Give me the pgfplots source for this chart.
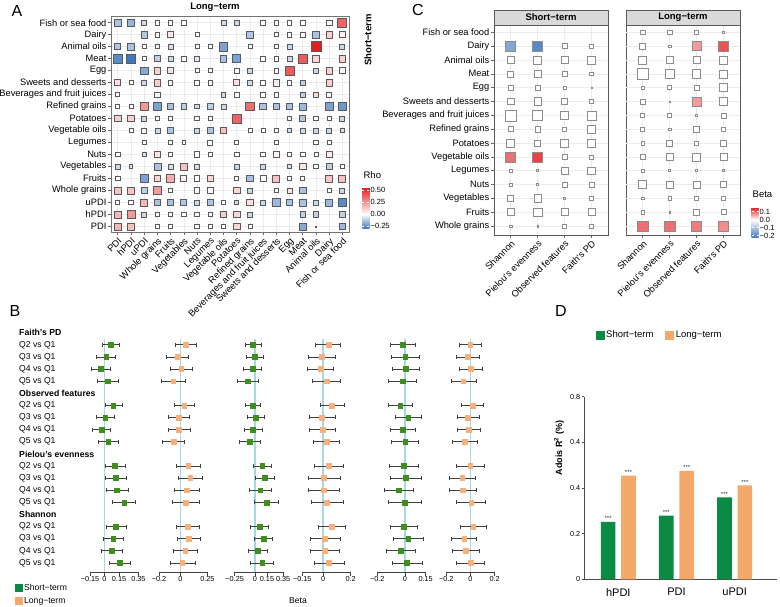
\documentclass[border=0pt]{standalone}
\usepackage{fontspec}
\setmainfont{Liberation Sans}
\usepackage{pgfplots}
\usepackage{pgfplotstable}
\pgfplotsset{compat=1.18}
\newcommand{\fs}[1]{\fontsize{#1}{#1}\selectfont}
\definecolor{cgreen}{HTML}{0B8A44}
\definecolor{corange}{HTML}{F4A96B}
\definecolor{bgreen}{HTML}{3F8F1F}
\definecolor{borange}{HTML}{F6B07C}
\definecolor{vline}{HTML}{A6D8E2}
\definecolor{cblue}{HTML}{3F78BC}
\definecolor{cred}{HTML}{E31A1C}
\definecolor{gridc}{HTML}{EBEBEB}
\definecolor{stripc}{HTML}{D9D9D9}
\pgfplotsset{colormap={rho}{color(0pt)=(cblue) color(29pt)=(white) color(85pt)=(cred)}}
\pgfplotsset{colormap={beta}{color(0pt)=(cblue) color(22.9pt)=(white) color(38.8pt)=(cred)}}

\pgfplotstableread{
x y v s
0 17 -0.13 6.5
1 17 -0.16 7.5
2 17 -0.08 5
3 17 0 4.5
4 17 0 4.5
5 17 0 4.5
8 17 -0.08 5
9 17 -0.08 5
11 17 0 4.5
12 17 0 4.5
13 17 0 4.5
14 17 0 4.5
16 17 0.03 5.5
17 17 0.38 9
2 16 -0.12 6.5
3 16 0 4.5
4 16 0.06 6
6 16 0 4
10 16 -0.12 6.5
12 16 0 4
13 16 0 4.5
14 16 0 4.5
15 16 -0.13 6.5
16 16 0.12 6.5
17 16 0.04 6
0 15 -0.12 6
1 15 -0.13 6.5
2 15 0 4
3 15 -0.02 4
4 15 -0.07 5
6 15 0 4
7 15 0 4
8 15 -0.2 8.5
10 15 0 4
12 15 0 4
13 15 -0.08 5
15 15 0.55 10
17 15 -0.08 5
0 14 -0.25 9
1 14 -0.3 9.5
2 14 0 4
3 14 -0.1 6
4 14 -0.08 5
5 14 0 4.5
6 14 -0.05 4.5
8 14 -0.13 6.5
9 14 -0.2 8
11 14 0 4.5
12 14 0 4.5
13 14 -0.08 5
14 14 0.4 9
15 14 0.1 6.5
17 14 0.12 6.5
2 13 -0.18 7.5
3 13 0.12 6.5
4 13 0.08 6
6 13 0 4
7 13 0 4
9 13 0 4.5
10 13 -0.08 5
12 13 0 4.5
13 13 0.4 9
15 13 -0.08 5
16 13 0.12 6.5
17 13 0.03 6
0 12 0.08 6
1 12 0 4
2 12 -0.08 5
3 12 0.12 6.5
4 12 0 4.5
6 12 0 4.5
7 12 0 4.5
9 12 0.08 6
10 12 -0.07 4.5
11 12 0 4.5
12 12 0.05 6.5
13 12 0 4.5
14 12 -0.1 5.5
16 12 0.12 6.5
0 11 0 4
3 11 0.02 5.5
8 11 -0.08 4.5
9 11 0 4.5
11 11 0 4.5
12 11 0 4.5
14 11 -0.1 5.5
15 11 0.1 5.5
16 11 0.02 5
0 10 0 4
1 10 0 4
2 10 0.25 8
3 10 -0.2 8
4 10 -0.13 6.5
5 10 -0.1 5.5
6 10 -0.08 4.5
7 10 -0.1 5.5
8 10 -0.08 5
10 10 0.35 8.5
11 10 -0.13 6.5
12 10 -0.13 6.5
13 10 -0.13 6.5
14 10 -0.15 7
16 10 -0.2 8.5
17 10 -0.22 8.5
0 9 0.12 6.5
1 9 0.12 6.5
2 9 -0.08 5
3 9 0 4.5
4 9 0 4.5
6 9 0 4.5
7 9 0 4.5
9 9 0.38 9
13 9 -0.02 4
14 9 -0.12 6
15 9 0 4.5
16 9 0 4.5
17 9 -0.08 5
1 8 0 4
2 8 0.03 5
3 8 -0.08 5
4 8 -0.12 6
6 8 -0.08 5
7 8 -0.12 6
8 8 0.15 6.5
10 8 0 4
11 8 0 4
12 8 -0.02 4
13 8 -0.07 4.5
14 8 -0.08 5
15 8 -0.08 5
16 8 -0.08 5
17 8 -0.07 4.5
2 7 -0.02 4
4 7 0 4.5
5 7 -0.02 3.5
7 7 0 5
9 7 0 4
12 7 0 4.5
15 7 0 4.5
16 7 0 4.5
0 6 0 4.5
2 6 -0.07 4.5
3 6 0.06 6
4 6 0 4
6 6 0.02 5.5
7 6 0 4.5
9 6 0 4.5
11 6 0 4.5
12 6 0.03 6
13 6 0 4
14 6 0 4.5
15 6 0 4
16 6 0.05 6
0 5 -0.08 5
1 5 -0.05 3.5
3 5 -0.13 7
4 5 -0.07 5
5 5 0.15 7
6 5 -0.07 5
9 5 -0.08 5
11 5 -0.08 5
13 5 -0.07 4.5
14 5 0.07 6.5
15 5 0 4.5
16 5 -0.1 6
17 5 0 4
0 4 0 4.5
2 4 -0.2 8
3 4 0.1 6.5
4 4 0.2 7.5
5 4 0.04 6
6 4 0.02 5.5
7 4 0.1 6.5
9 4 0 4
10 4 -0.13 6.5
11 4 0.02 6
12 4 0.15 7
13 4 0 4
14 4 0.02 4
16 4 0.14 7
17 4 0.15 7
0 3 0.15 7
1 3 0.15 7
2 3 -0.1 6
3 3 0.25 8
4 3 0 4.5
6 3 0.02 5.5
7 3 0.02 5.5
9 3 0.1 6.5
10 3 -0.08 5
12 3 0 4
13 3 0.06 5
14 3 -0.13 6.5
16 3 0 4
17 3 -0.08 5
0 2 0 4
1 2 0 4.5
2 2 0.18 7
3 2 -0.13 6.5
4 2 -0.13 6.5
5 2 -0.12 6
6 2 -0.08 5
7 2 -0.12 6.5
8 2 0 4
9 2 -0.07 4
10 2 0.08 6.5
11 2 -0.08 5
12 2 -0.15 7.5
13 2 -0.13 6.5
14 2 -0.13 7
15 2 -0.08 5
16 2 -0.15 7
17 2 -0.25 8.5
0 1 0.18 7
1 1 0.25 8
2 1 -0.08 5
3 1 0 4.5
4 1 0 4.5
5 1 0 4.5
6 1 0 4.5
7 1 0 4.5
8 1 0.13 6.5
9 1 0.1 6.5
10 1 -0.08 5
14 1 -0.1 5.5
15 1 -0.1 5.5
17 1 -0.1 5.5
0 0 0.18 7
1 0 0.15 7
3 0 0 4.5
4 0 0 4
6 0 0 4.5
7 0 0 4.5
8 0 0 4.5
9 0 0.1 6.5
10 0 0 4
14 0 -0.18 7
15 0 0 1
17 0 -0.15 6.5
}\tabA

\pgfplotstableread{
x y v s
0 13 -0.15 10
1 13 -0.2 10
2 13 0 5
3 13 0 4.5
0 12 0 6.5
1 12 0 8
2 12 0 7
3 12 0 8
0 11 0 6
1 11 0 7.5
2 11 0 5
3 11 0 3.5
0 10 0 4.5
1 10 0 4.5
2 10 0 3
3 10 0 1
0 9 0 6.5
1 9 0 7.5
2 9 0 6
3 9 0 4.5
0 8 0 11
1 8 0 10
2 8 0 8.5
3 8 0 9
0 7 0 5
1 7 0 5.5
2 7 0 4
3 7 0 8
0 6 0 8
1 6 0 6
2 6 0 8.5
3 6 0 7.5
0 5 0.1 10
1 5 0.13 10
2 5 0 5
3 5 0 4
0 4 0 3.5
1 4 0 2
2 4 0 7
3 4 0 7.5
0 3 0 2.5
1 3 0 1.8
2 3 0 5
3 3 0 5
0 2 0 6
1 2 0 7.5
2 2 0 2
3 2 0 4.5
0 1 0 7
1 1 0 8.5
2 1 0 7
3 1 0 7
0 0 0 2.5
1 0 0 1.5
2 0 0 3.5
3 0 0 4
}\tabCS

\pgfplotstableread{
x y v s
0 14 0 4.5
1 14 0 4.5
2 14 0 4.5
3 14 0 2.5
0 13 0 6
1 13 0 2.5
2 13 0.07 9
3 13 0.12 10
0 12 0 8
1 12 0 7.5
2 12 0 7
3 12 0 8
0 11 0 10.5
1 11 0 9.5
2 11 0 8.5
3 11 0 8
0 10 0 3.5
1 10 0 4
2 10 0 5
3 10 0 8
0 9 0 5
1 9 0 1
2 9 0.07 9
3 9 0 7.5
0 8 0 4
1 8 0 4
2 8 0 2.5
3 8 0 5
0 7 0 4
1 7 0 2.5
2 7 0 6
3 7 0 4
0 6 0 3.5
1 6 0 6
2 6 0 4
3 6 0 5.5
0 5 0 4.5
1 5 0 6.5
2 5 0 8
3 5 0 7
0 4 0 2.5
1 4 0 2
2 4 0 2
3 4 0 2
0 3 0 8
1 3 0 7.5
2 3 0 7
3 3 0 6
0 2 0 2.5
1 2 0 3.5
2 2 0 4.5
3 2 0 4.5
0 1 0 3.5
1 1 0 1.2
2 1 0 6
3 1 0 5
0 0 0.1 10.5
1 0 0.1 10.5
2 0 0.09 10
3 0 0.08 9.5
}\tabCL

\pgfplotstableread{
y b lo hi
-1 0.062 -0.028 0.152
-2 0.017 -0.083 0.110
-3 -0.041 -0.138 0.059
-4 0.034 -0.072 0.141
-6 0.090 0.007 0.183
-7 0.007 -0.083 0.100
-8 -0.031 -0.128 0.062
-9 0.038 -0.066 0.145
-11 0.107 0.007 0.210
-12 0.114 0.007 0.228
-13 0.128 0.021 0.241
-14 0.203 0.083 0.321
-16 0.117 0.014 0.221
-17 0.090 -0.017 0.197
-18 0.076 -0.031 0.183
-19 0.155 0.045 0.269
}\tbA
\pgfplotstableread{
y b lo hi
-1 0.047 -0.050 0.143
-2 -0.028 -0.130 0.075
-3 0.006 -0.093 0.106
-4 -0.068 -0.174 0.043
-6 0.034 -0.059 0.130
-7 -0.019 -0.109 0.081
-8 -0.016 -0.112 0.087
-9 -0.065 -0.168 0.034
-11 0.071 -0.040 0.183
-12 0.090 -0.025 0.202
-13 0.056 -0.059 0.174
-14 0.050 -0.075 0.174
-16 0.068 -0.037 0.174
-17 0.075 -0.034 0.183
-18 0.043 -0.068 0.155
-19 0.016 -0.099 0.134
}\tbB
\pgfplotstableread{
y b lo hi
-1 -0.022 -0.122 0.079
-2 -0.002 -0.107 0.106
-3 -0.029 -0.149 0.083
-4 -0.087 -0.223 0.048
-6 -0.029 -0.122 0.064
-7 0.009 -0.091 0.114
-8 -0.022 -0.134 0.091
-9 -0.064 -0.192 0.067
-11 0.091 -0.018 0.203
-12 0.125 0.005 0.245
-13 0.067 -0.064 0.199
-14 0.145 -0.006 0.296
-16 0.056 -0.053 0.164
-17 0.106 -0.006 0.222
-18 0.040 -0.087 0.148
-19 0.091 -0.053 0.234
}\tbC
\pgfplotstableread{
y b lo hi
-1 0.039 -0.053 0.128
-2 -0.010 -0.106 0.089
-3 -0.017 -0.114 0.075
-4 0.024 -0.077 0.123
-6 0.065 -0.019 0.155
-7 -0.007 -0.099 0.089
-8 -0.005 -0.097 0.089
-9 0.024 -0.072 0.121
-11 0.043 -0.060 0.147
-12 0.007 -0.104 0.123
-13 0.002 -0.104 0.116
-14 0.029 -0.085 0.143
-16 0.063 -0.034 0.164
-17 0.014 -0.090 0.123
-18 0.012 -0.090 0.116
-19 0.043 -0.063 0.152
}\tbD
\pgfplotstableread{
y b lo hi
-1 -0.019 -0.106 0.075
-2 0.002 -0.099 0.104
-3 0.005 -0.092 0.104
-4 -0.017 -0.118 0.082
-6 -0.034 -0.118 0.053
-7 0.024 -0.072 0.120
-8 -0.019 -0.109 0.073
-9 0.002 -0.097 0.099
-11 -0.009 -0.111 0.097
-12 0.005 -0.104 0.116
-13 -0.048 -0.152 0.063
-14 0.000 -0.118 0.116
-16 -0.012 -0.109 0.090
-17 0.024 -0.082 0.131
-18 -0.031 -0.138 0.075
-19 0.012 -0.094 0.126
}\tbE
\pgfplotstableread{
y b lo hi
-1 -0.003 -0.096 0.090
-2 -0.022 -0.115 0.071
-3 0.003 -0.093 0.101
-4 -0.060 -0.162 0.044
-6 0.016 -0.077 0.107
-7 -0.022 -0.112 0.071
-8 -0.014 -0.110 0.082
-9 -0.047 -0.151 0.055
-11 -0.003 -0.115 0.110
-12 -0.068 -0.175 0.038
-13 -0.063 -0.175 0.049
-14 0.005 -0.118 0.126
-16 0.022 -0.082 0.134
-17 -0.052 -0.156 0.049
-18 -0.038 -0.153 0.071
-19 0.000 -0.118 0.115
}\tbF

\pgfplotsset{
  sq/.style={scatter, only marks, mark=square*, scatter src=explicit,
    scatter/use mapped color={draw=#1, fill=mapped color},
    visualization depends on={0.5*\thisrow{s} \as \sz},
    scatter/@pre marker code/.append style={/tikz/mark size=\sz}},
  fp/.style={scale only axis, width=48.4pt, height=245.4pt, ymin=-19.75, ymax=0.5,
    axis y line=none, ytick=\empty, axis x line*=bottom, tick align=outside,
    major tick length=3.5pt, axis line style={black!75, line width=0.6pt},
    tick style={black!75, line width=0.6pt},
    xticklabel style={font=\fs{7.3}, inner sep=1pt}, clip=false},
  vl/.style={vline, line width=1.3pt, forget plot},
  ci/.style={only marks, mark=square*, mark size=2.4pt, forget plot,
    error bars/.cd, x dir=both, x explicit, error mark=|,
    error bar style={black!75, line width=0.6pt},
    error mark options={black!75, line width=0.6pt, mark size=2pt}},
  cfac/.style={scale only axis, width=114pt, height=210pt, xmin=-0.62, xmax=3.62,
    ymin=-0.65, ymax=14.53, xtick={0,1,2,3},
    xticklabels={Shannon,Pielou’s evenness,Observed features,Faith’s PD},
    xticklabel style={rotate=45, anchor=north east, font=\fs{9.3}, inner sep=1pt},
    tick align=outside, major tick length=3pt, tick style={black!60, line width=0.5pt},
    axis line style={black!65, line width=0.7pt}, grid=major,
    grid style={gridc, line width=0.5pt}, point meta min=-0.229, point meta max=0.159,
    colormap name=beta, tick pos=left, clip=false},
}

\begin{document}
\begin{tikzpicture}
\useasboundingbox (0,0) rectangle (780pt,606pt);

% ---------------- Panel A
\begin{axis}[name=pA, at={(111.1pt,373.7pt)}, anchor=south west, scale only axis,
  width=237.8pt, height=215.6pt, xmin=-0.5, xmax=17.5, ymin=-0.5, ymax=17.5,
  xtick={0,...,17}, ytick={0,...,17},
  xticklabels={PDI,hPDI,uPDI,Whole grains,Fruits,Vegetables,Nuts,Legumes,Vegetable oils,Potatoes,Refined grains,Beverages and fruit juices,Sweets and desserts,Egg,Meat,Animal oils,Dairy,Fish or sea food},
  yticklabels={PDI,hPDI,uPDI,Whole grains,Fruits,Vegetables,Nuts,Legumes,Vegetable oils,Potatoes,Refined grains,Beverages and fruit juices,Sweets and desserts,Egg,Meat,Animal oils,Dairy,Fish or sea food},
  xticklabel style={rotate=45, anchor=north east, font=\fs{9.3}, inner sep=1pt},
  yticklabel style={font=\fs{9.3}, inner sep=1.5pt},
  tick align=outside, major tick length=3pt, tick style={black!60, line width=0.5pt},
  tick pos=left, grid=major, grid style={gridc, line width=0.5pt},
  axis line style={black!55, line width=0.8pt},
  point meta min=-0.29, point meta max=0.56, colormap name=rho,
  colorbar, colorbar style={at={(parent axis.south east)}, anchor=south west,
    xshift=5pt, yshift=4pt, width=7pt, height=41pt,
    ytick={-0.25,0,0.25,0.5}, yticklabels={−0.25,0.00,0.25,0.50},
    yticklabel style={font=\fs{7.5}, inner sep=1pt},
    axis line style={draw=none}, tick align=inside, major tick length=2pt,
    tick style={white, line width=0.5pt},
    title={Rho}, title style={at={(0,1)}, anchor=south west, inner sep=1pt, yshift=2pt, font=\fs{9.5}}},
  clip=false]
\addplot[sq=black!65, mark options={line width=0.6pt}] table[x=x, y=y, meta=v] {\tabA};
\end{axis}

% ---------------- Panel C
\begin{axis}[cfac, name=cS, at={(494pt,371pt)}, anchor=south west,
  ytick={0,...,14},
  yticklabels={Whole grains,Fruits,Vegetables,Nuts,Legumes,Vegetable oils,Potatoes,Refined grains,Beverages and fruit juices,Sweets and desserts,Egg,Meat,Animal oils,Dairy,Fish or sea food},
  yticklabel style={font=\fs{9.3}, inner sep=1.5pt}]
\addplot[sq=black!45, mark options={line width=0.5pt}] table[x=x, y=y, meta=v] {\tabCS};
\end{axis}
\begin{axis}[cfac, name=cL, at={(626pt,371pt)}, anchor=south west,
  ytick=\empty, extra y ticks={0,...,14}, extra y tick labels={},
  extra y tick style={grid=major, tick style={draw=none}},
  colorbar, colorbar style={at={(parent axis.south east)}, anchor=south west,
    xshift=3pt, yshift=-3pt, width=7pt, height=31pt,
    ytick={-0.2,-0.1,0,0.1}, yticklabels={−0.2,−0.1,0.0,0.1},
    yticklabel style={font=\fs{7.5}, inner sep=1pt},
    axis line style={draw=none}, tick align=inside, major tick length=2pt,
    tick style={white, line width=0.5pt}, grid=none,
    title={Beta}, title style={at={(0,1)}, anchor=south west, inner sep=1pt, yshift=2pt, font=\fs{9.5}}}]
\addplot[sq=black!45, mark options={line width=0.5pt}] table[x=x, y=y, meta=v] {\tabCL};
\end{axis}
\draw[black!65, line width=0.7pt, fill=stripc] (cS.north west) rectangle ([yshift=15pt]cS.north east);
\node[font=\bfseries\fs{9.5}] at ([yshift=7.5pt]cS.north) {Short−term};
\draw[black!65, line width=0.7pt, fill=stripc] (cL.north west) rectangle ([yshift=15pt]cL.north east);
\node[font=\bfseries\fs{9.5}] at ([yshift=7.5pt]cL.north) {Long−term};

% ---------------- Panel B
\begin{axis}[fp, at={(90pt,34pt)}, anchor=south west, xmin=-0.15, xmax=0.35,
  xtick={-0.15,0,0.15,0.35}, xticklabels={−0.15,0,0.15,0.35},
  legend style={at={(-1.55,-0.04)}, anchor=north west, draw=none, fill=none,
    font=\fs{8.6}, row sep=1.5pt, inner sep=0pt, cells={anchor=west}},
  legend cell align=left]
\addplot[vl] coordinates {(0,-0.5) (0,-19.75)};
\addplot[bgreen, ci] table[x=b, y=y, x error plus expr=\thisrow{hi}-(\thisrow{b}), x error minus expr=\thisrow{b}-(\thisrow{lo})] {\tbA};
\addlegendimage{legend image code/.code={\fill[cgreen] (0pt,-3.3pt) rectangle (6.6pt,3.3pt);}}
\addlegendentry{Short−term}
\addlegendimage{legend image code/.code={\fill[corange] (0pt,-3.3pt) rectangle (6.6pt,3.3pt);}}
\addlegendentry{Long−term}
\end{axis}
\begin{axis}[fp, at={(159pt,34pt)}, anchor=south west, xmin=-0.2, xmax=0.25,
  xtick={-0.2,0,0.25}, xticklabels={−0.2,0,0.25}]
\addplot[vl] coordinates {(0,-0.5) (0,-19.75)};
\addplot[borange, ci] table[x=b, y=y, x error plus expr=\thisrow{hi}-(\thisrow{b}), x error minus expr=\thisrow{b}-(\thisrow{lo})] {\tbB};
\end{axis}
\begin{axis}[fp, at={(234.7pt,34pt)}, anchor=south west, xmin=-0.25, xmax=0.35,
  xtick={-0.25,0,0.15,0.35}, xticklabels={−0.25,0,0.15,0.35}]
\addplot[vl] coordinates {(0,-0.5) (0,-19.75)};
\addplot[bgreen, ci] table[x=b, y=y, x error plus expr=\thisrow{hi}-(\thisrow{b}), x error minus expr=\thisrow{b}-(\thisrow{lo})] {\tbC};
\end{axis}
\begin{axis}[fp, at={(302.3pt,34pt)}, anchor=south west, xmin=-0.15, xmax=0.2,
  xtick={-0.15,0,0.2}, xticklabels={−0.15,0,0.2}]
\addplot[vl] coordinates {(0,-0.5) (0,-19.75)};
\addplot[borange, ci] table[x=b, y=y, x error plus expr=\thisrow{hi}-(\thisrow{b}), x error minus expr=\thisrow{b}-(\thisrow{lo})] {\tbD};
\end{axis}
\begin{axis}[fp, at={(377.3pt,34pt)}, anchor=south west, xmin=-0.2, xmax=0.15,
  xtick={-0.2,0,0.15}, xticklabels={−0.2,0,0.15}]
\addplot[vl] coordinates {(0,-0.5) (0,-19.75)};
\addplot[bgreen, ci] table[x=b, y=y, x error plus expr=\thisrow{hi}-(\thisrow{b}), x error minus expr=\thisrow{b}-(\thisrow{lo})] {\tbE};
\end{axis}
\begin{axis}[fp, at={(446.3pt,34pt)}, anchor=south west, xmin=-0.2, xmax=0.2,
  xtick={-0.2,0,0.2}, xticklabels={−0.2,0,0.2}]
\addplot[vl] coordinates {(0,-0.5) (0,-19.75)};
\addplot[borange, ci] table[x=b, y=y, x error plus expr=\thisrow{hi}-(\thisrow{b}), x error minus expr=\thisrow{b}-(\thisrow{lo})] {\tbF};
\end{axis}
\foreach \i/\t in {0/Faith’s PD,5/Observed features,10/Pielou’s evenness,15/Shannon}
  \node[anchor=west, font=\bfseries\fs{8.7}, inner sep=0pt] at (19pt,{(273.3-12.12*\i)*1pt}) {\t};
\foreach \i/\t in {1/Q2,2/Q3,3/Q4,4/Q5,6/Q2,7/Q3,8/Q4,9/Q5,11/Q2,12/Q3,13/Q4,14/Q5,16/Q2,17/Q3,18/Q4,19/Q5}
  \node[anchor=west, font=\fs{8.6}, inner sep=0pt] at (19pt,{(273.3-12.12*\i)*1pt}) {\t{} vs Q1};
\node[font=\fs{8.6}] at (298pt,5pt) {Beta};

% ---------------- Panel D
\begin{axis}[at={(584pt,26.7pt)}, anchor=south west, scale only axis, width=193pt, height=182.6pt,
  xmin=-0.589, xmax=2.727, ymin=0, ymax=0.8, ybar, bar width=14.6pt,
  axis x line*=bottom, axis y line*=left, axis line style={black!70, line width=0.6pt},
  ytick={0,0.2,0.4,0.6,0.8}, yticklabels={0,0.2,0.4,0.4,0.8},
  yticklabel style={font=\fs{7.3}, inner sep=1pt},
  tick align=outside, major tick length=2.5pt, tick style={black!70, line width=0.6pt},
  xtick=\empty, extra x ticks={0,1,2}, extra x tick labels={hPDI,PDI,uPDI},
  extra x tick style={tick style={draw=none}, xticklabel style={font=\fs{11}, yshift=-3pt}},
  legend style={at={(0.06,1.338)}, anchor=west, draw=none, fill=none, font=\fs{9.5},
    inner sep=0pt, /tikz/every even column/.append style={column sep=10pt}},
  legend columns=2, clip=false]
\addplot[fill=cgreen, draw=none, bar shift=-10.2pt, forget plot,
  nodes near coords={***}, nodes near coords style={font=\fs{6}, black!80, inner sep=1pt}]
  coordinates {(0,0.252) (1,0.279) (2,0.3585)};
\addplot[fill=corange, draw=none, bar shift=10.2pt, forget plot,
  nodes near coords={***}, nodes near coords style={font=\fs{6}, black!80, inner sep=1pt}]
  coordinates {(0,0.454) (1,0.475) (2,0.412)};
\addlegendimage{legend image code/.code={\fill[cgreen] (0pt,-4pt) rectangle (8pt,4pt);}}
\addlegendentry{Short−term}
\addlegendimage{legend image code/.code={\fill[corange] (0pt,-4pt) rectangle (8pt,4pt);}}
\addlegendentry{Long−term}
\end{axis}
\node[rotate=90, font=\bfseries\fs{9}] at (559pt,158pt) {Adois R\textsuperscript{2} (\%)};

% ---------------- titles and letters
\node[font=\bfseries\fs{9.5}] at (215pt,599pt) {Long−term};
\node[font=\bfseries\fs{9.5}, rotate=90] at (368pt,566pt) {Short−term};
\node[font=\fs{16}] at (17pt,595pt) {A};
\node[font=\fs{16}] at (15pt,295pt) {B};
\node[font=\fs{16}] at (418pt,596pt) {C};
\node[font=\fs{16}] at (561pt,295pt) {D};
\end{tikzpicture}
\end{document}
